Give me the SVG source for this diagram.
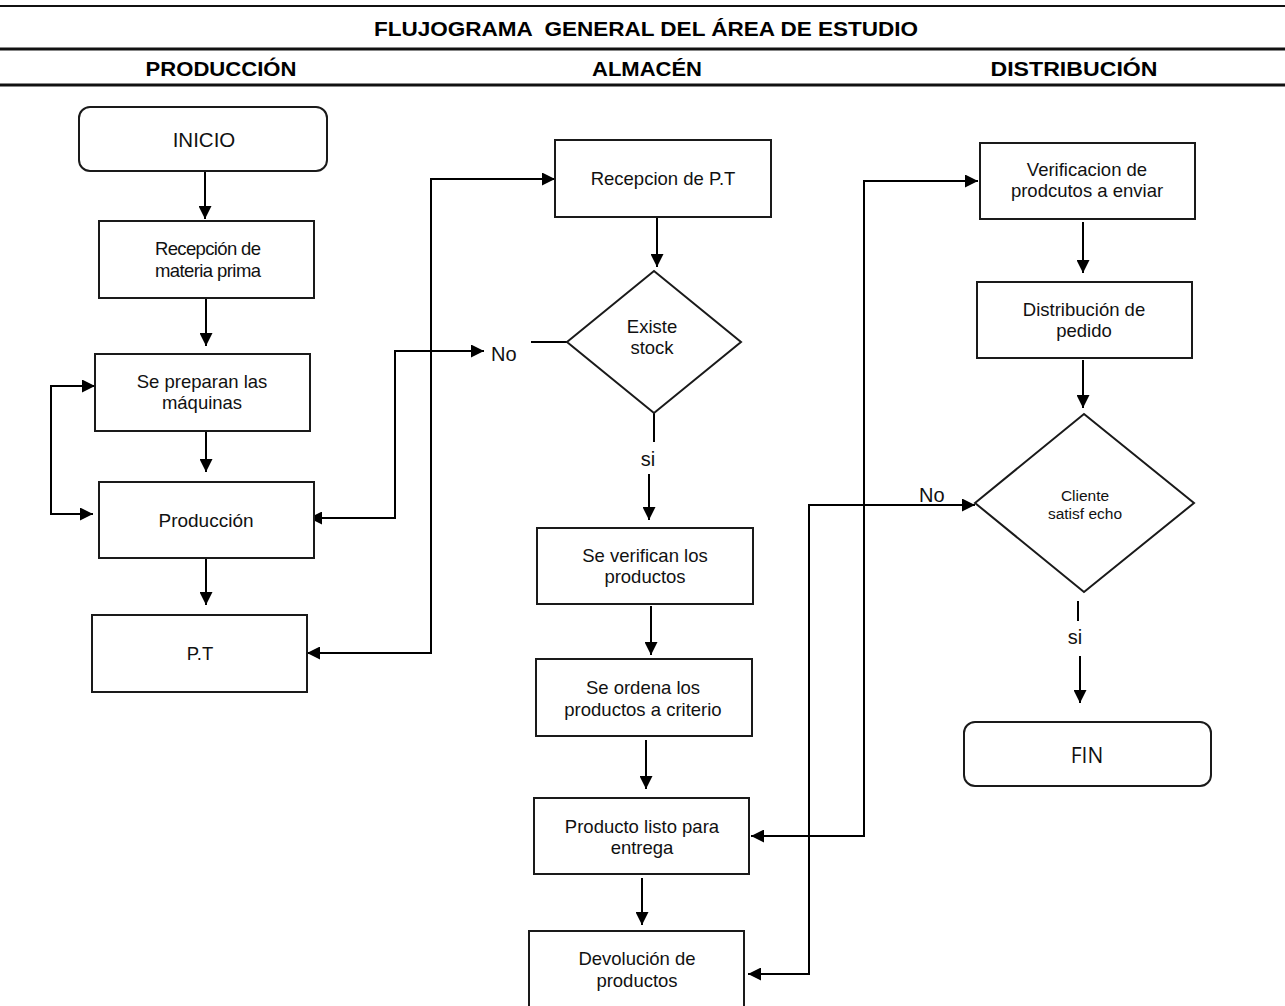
<svg xmlns="http://www.w3.org/2000/svg" width="1285" height="1006" viewBox="0 0 1285 1006">
  <defs>
    <marker id="arrow" markerUnits="userSpaceOnUse" markerWidth="14" markerHeight="13" refX="13" refY="6.5" orient="auto-start-reverse">
      <path d="M0,0 L13,6.5 L0,13 z" fill="#000"/>
    </marker>
    <style>
      .box { fill: #fff; stroke: #1a1a1a; stroke-width: 2; }
      .rule { stroke: #111; fill: none; }
      .conn { fill: none; stroke: #000; stroke-width: 2; }
      .arr { marker-end: url(#arrow); }
      .both { marker-start: url(#arrow); marker-end: url(#arrow); }
      .t { font-family: "Liberation Sans", Arial, sans-serif; font-size: 18.5px; fill: #111; text-anchor: middle; }
      .big { font-size: 19px; }
      .term { font-size: 20.5px; }
      .lbl { font-family: "Liberation Sans", Arial, sans-serif; font-size: 20px; fill: #111; }
      .head { font-family: "Liberation Sans", Arial, sans-serif; font-weight: bold; font-size: 21px; fill: #000; text-anchor: middle; white-space: pre; }
      .small { font-size: 15.5px; }
      .fin { font-family: "Open Sans", "Noto Sans", sans-serif; font-size: 21px; fill: #111; text-anchor: middle; }
    </style>
  </defs>

  <!-- header band -->
  <g id="header">
    <line class="rule" x1="0" y1="6" x2="1285" y2="6" stroke-width="2"/>
    <line class="rule" x1="0" y1="49" x2="1285" y2="49" stroke-width="3"/>
    <line class="rule" x1="0" y1="85" x2="1285" y2="85" stroke-width="3"/>
    <text class="head" x="646" y="36" textLength="544" lengthAdjust="spacingAndGlyphs">FLUJOGRAMA  GENERAL DEL ÁREA DE ESTUDIO</text>
    <text class="head" x="221" y="76" textLength="151" lengthAdjust="spacingAndGlyphs">PRODUCCIÓN</text>
    <text class="head" x="647" y="76" textLength="110" lengthAdjust="spacingAndGlyphs">ALMACÉN</text>
    <text class="head" x="1074" y="76" textLength="167" lengthAdjust="spacingAndGlyphs">DISTRIBUCIÓN</text>
  </g>

  <!-- connectors -->
  <g id="connectors">
    <path class="conn arr" d="M205 172 V219"/>
    <path class="conn arr" d="M206 299 V346"/>
    <path class="conn arr" d="M206 426 V472"/>
    <path class="conn arr" d="M206 559 V605"/>
    <path class="conn both" d="M95 386 H51 V514 H93"/>
    <path class="conn both" d="M484 351 H395 V518 H309"/>
    <path class="conn" d="M531 342 H567"/>
    <path class="conn both" d="M307 653 H431 V179 H555"/>
    <path class="conn arr" d="M657 218 V267"/>
    <path class="conn" d="M654 413 V442"/>
    <path class="conn arr" d="M649 474 V520"/>
    <path class="conn arr" d="M651 606 V655"/>
    <path class="conn arr" d="M646 740 V789"/>
    <path class="conn arr" d="M642 878 V925"/>
    <path class="conn both" d="M751 836 H864 V181 H978"/>
    <path class="conn both" d="M748 974 H809 V505 H975"/>
    <path class="conn arr" d="M1083 222 V273"/>
    <path class="conn arr" d="M1083 360 V408"/>
    <path class="conn" d="M1078 601 V621"/>
    <path class="conn arr" d="M1080 656 V703"/>
    <text class="lbl" x="491" y="361">No</text>
    <text class="lbl" x="648" y="466" text-anchor="middle">si</text>
    <text class="lbl" x="919" y="502">No</text>
    <text class="lbl" x="1075" y="644" text-anchor="middle">si</text>
  </g>

  <!-- PRODUCCIÓN lane -->
  <g id="inicio">
    <rect class="box" x="79" y="107" width="248" height="64" rx="11"/>
    <text class="t term" x="204" y="147">INICIO</text>
  </g>
  <g id="recepcion-mp">
    <rect class="box" x="99" y="221" width="215" height="77"/>
    <text class="t" x="208" y="255" textLength="106" lengthAdjust="spacing">Recepción de</text>
    <text class="t" x="208" y="277" textLength="106" lengthAdjust="spacing">materia prima</text>
  </g>
  <g id="preparan">
    <rect class="box" x="95" y="354" width="215" height="77"/>
    <text class="t" x="202" y="388">Se preparan las</text>
    <text class="t" x="202" y="409">máquinas</text>
  </g>
  <g id="produccion">
    <rect class="box" x="99" y="482" width="215" height="76"/>
    <text class="t big" x="206" y="527">Producción</text>
  </g>
  <g id="pt">
    <rect class="box" x="92" y="615" width="215" height="77"/>
    <text class="t" x="200" y="660">P.T</text>
  </g>

  <!-- ALMACÉN lane -->
  <g id="recepcion-pt">
    <rect class="box" x="555" y="140" width="216" height="77"/>
    <text class="t" x="663" y="185">Recepcion de P.T</text>
  </g>
  <g id="existe-stock">
    <polygon class="box" points="567,342 654,271 741,342 654,413"/>
    <text class="t" x="652" y="333">Existe</text>
    <text class="t" x="652" y="354">stock</text>
  </g>
  <g id="verifican">
    <rect class="box" x="537" y="528" width="216" height="76"/>
    <text class="t" x="645" y="562">Se verifican los</text>
    <text class="t" x="645" y="583">productos</text>
  </g>
  <g id="ordena">
    <rect class="box" x="536" y="659" width="216" height="77"/>
    <text class="t" x="643" y="694">Se ordena los</text>
    <text class="t" x="643" y="716">productos a criterio</text>
  </g>
  <g id="listo">
    <rect class="box" x="534" y="798" width="215" height="76"/>
    <text class="t" x="642" y="833">Producto listo para</text>
    <text class="t" x="642" y="854">entrega</text>
  </g>
  <g id="devolucion">
    <rect class="box" x="529" y="931" width="215" height="80"/>
    <text class="t" x="637" y="965">Devolución de</text>
    <text class="t" x="637" y="987">productos</text>
  </g>

  <!-- DISTRIBUCIÓN lane -->
  <g id="verificacion">
    <rect class="box" x="980" y="143" width="215" height="76"/>
    <text class="t" x="1087" y="176">Verificacion de</text>
    <text class="t" x="1087" y="197">prodcutos a enviar</text>
  </g>
  <g id="distribucion">
    <rect class="box" x="977" y="282" width="215" height="76"/>
    <text class="t" x="1084" y="316">Distribución de</text>
    <text class="t" x="1084" y="337">pedido</text>
  </g>
  <g id="cliente">
    <polygon class="box" points="975,503 1084,414 1194,503 1084,592"/>
    <text class="t small" x="1085" y="501">Cliente</text>
    <text class="t small" x="1085" y="519">satisf echo</text>
  </g>
  <g id="fin">
    <rect class="box" x="964" y="722" width="247" height="64" rx="11"/>
    <text class="fin" x="1087" y="763">FIN</text>
  </g>
</svg>
